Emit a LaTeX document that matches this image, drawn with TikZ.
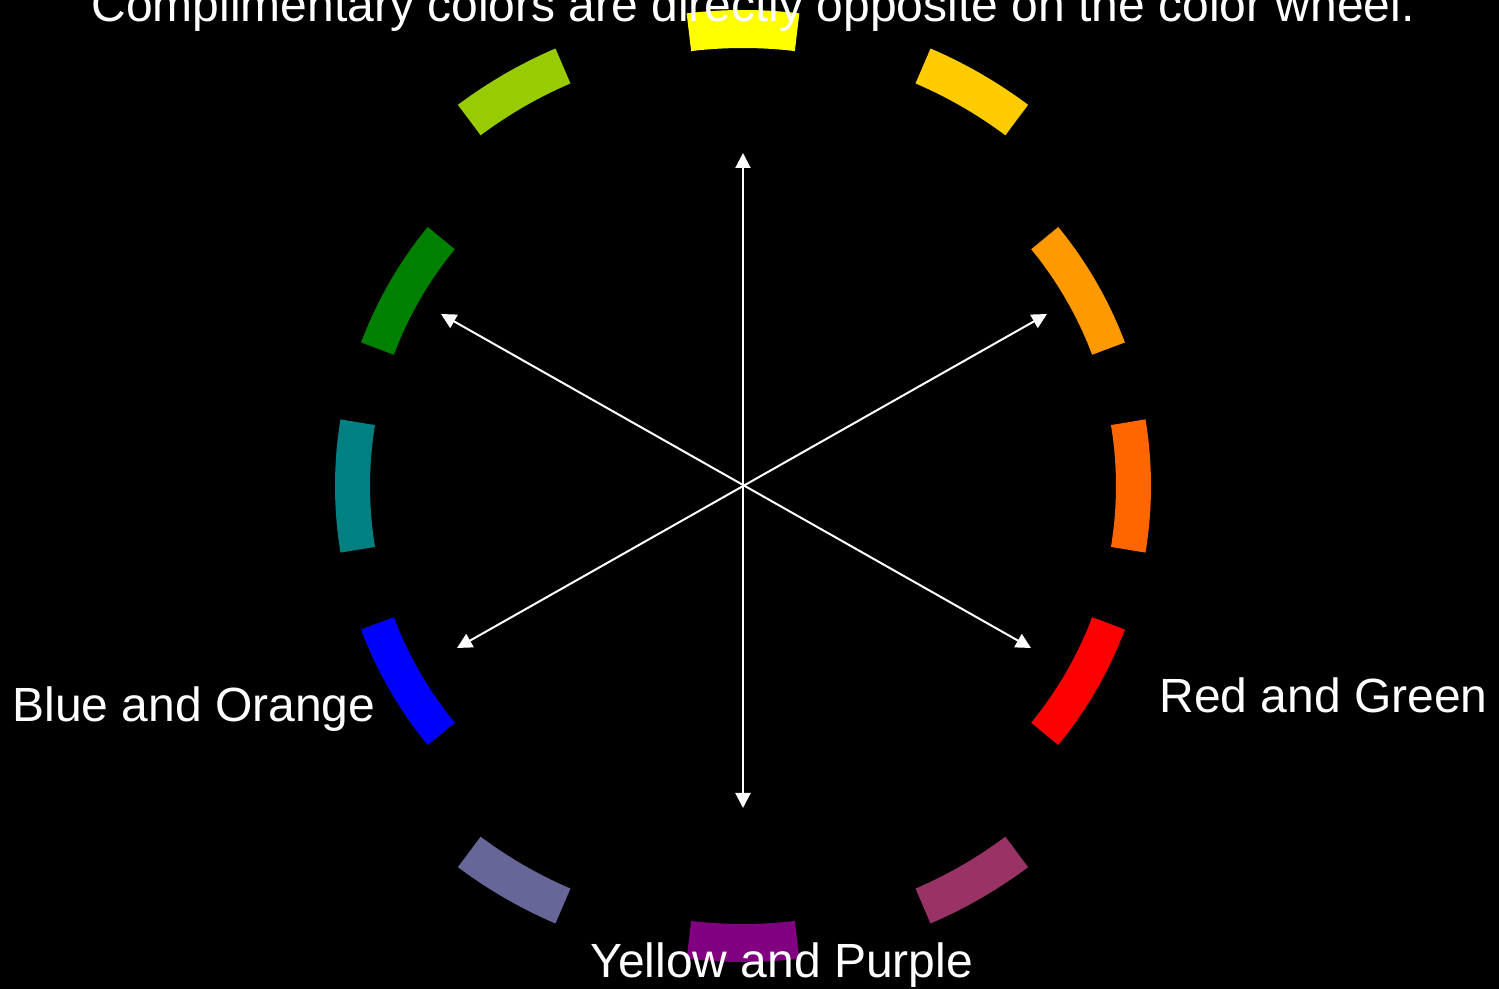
\documentclass[tikz,border=0pt]{standalone}
\usepackage{fontspec}
\setmainfont{Liberation Sans}
\usetikzlibrary{arrows.meta,positioning,calc}
\definecolor{cwYellow}{HTML}{FFFF00}
\definecolor{cwYellowOrange}{HTML}{FFCC00}
\definecolor{cwOrange}{HTML}{FF9900}
\definecolor{cwRedOrange}{HTML}{FF6600}
\definecolor{cwRed}{HTML}{FF0000}
\definecolor{cwRedPurple}{HTML}{993366}
\definecolor{cwPurple}{HTML}{800080}
\definecolor{cwBluePurple}{HTML}{666699}
\definecolor{cwBlue}{HTML}{0000FF}
\definecolor{cwBlueGreen}{HTML}{008080}
\definecolor{cwGreen}{HTML}{008000}
\definecolor{cwYellowGreen}{HTML}{99CC00}

\begin{document}
\begin{tikzpicture}[x=0.5pt,y=0.5pt,
  arr/.style={draw=white,line width=1pt,
    {Triangle[length=7.5pt,width=7.5pt]}-{Triangle[length=7.5pt,width=7.5pt]}},
  lbl/.style={text=white,font=\fontsize{24}{28}\selectfont,inner sep=0pt,anchor=base west}]
  \clip (-743,-503) rectangle (756,486);
  \fill[black] (-743,-503) rectangle (756,486);
  % colour wheel: angle/colour/inner radius/outer radius/half span
  \foreach \ang/\col/\rin/\rout/\hs in {90/cwYellow/438/476/6.8,60/cwYellowOrange/438/476/6.8,
      30/cwOrange/373/408/9.4,0/cwRedOrange/373/408/9.4,-30/cwRed/373/408/9.4,
      -60/cwRedPurple/438/476/6.8,-90/cwPurple/438/476/6.8,-120/cwBluePurple/438/476/6.8,
      -150/cwBlue/373/408/9.4,180/cwBlueGreen/373/408/9.4,150/cwGreen/373/408/9.4,
      120/cwYellowGreen/438/476/6.8}{
    \fill[\col] (\ang-\hs:\rout) arc[start angle=\ang-\hs,end angle=\ang+\hs,radius=\rout]
      -- (\ang+\hs:\rin) arc[start angle=\ang+\hs,end angle=\ang-\hs,radius=\rin] -- cycle;
  }
  % arrow ends
  \coordinate (top) at (0,333);
  \coordinate (bot) at (0,-322);
  \coordinate (ul) at (-302,172);
  \coordinate (ur) at (304,172);
  \coordinate (ll) at (-286,-162);
  \coordinate (lr) at (288,-162);
  \draw[arr] (bot) -- (top);
  \draw[arr] (ul) -- (lr);
  \draw[arr] (ll) -- (ur);
  % texts
  \node[lbl] (title) at (-652,464) {Complimentary colors are directly opposite on the color wheel.};
  \node[lbl] (blueOrange) at (-731,-236) {Blue and Orange};
  \node[lbl] (redGreen) at (416,-227) {Red and Green};
  \node[lbl] (yellowPurple) at (-153,-492) {Yellow and Purple};
\end{tikzpicture}
\end{document}
